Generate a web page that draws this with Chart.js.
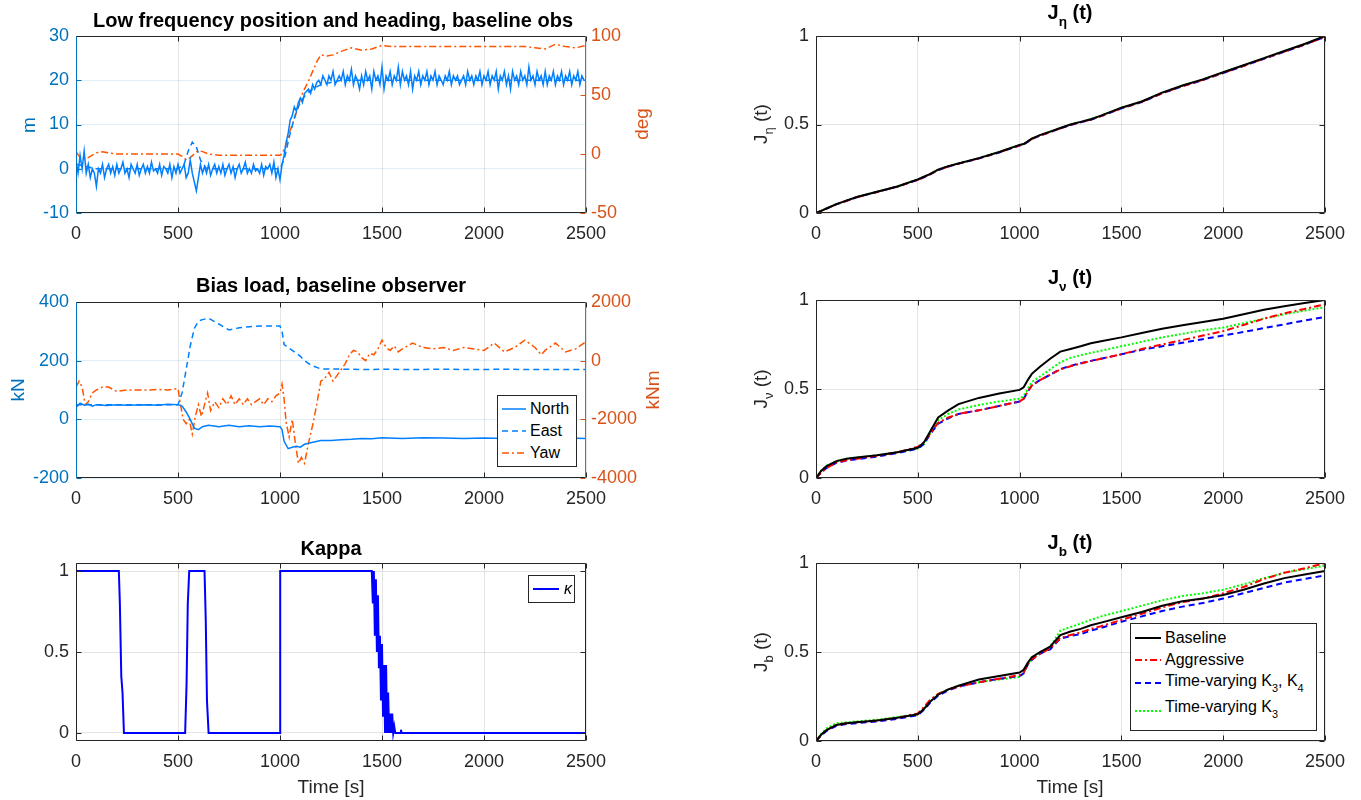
<!DOCTYPE html>
<html>
<head>
<meta charset="utf-8">
<script src="https://cdn.jsdelivr.net/npm/chart.js@4.4.1/dist/chart.umd.min.js"></script>
<style>
  body { margin: 0; background: #fff; width: 1361px; height: 800px; position: relative; overflow: hidden;
         font-family: 'Liberation Sans', Arial, sans-serif; }
  canvas { position: absolute; }
  .t { position: absolute; transform: translate(-50%, -50%); white-space: nowrap; color: #000; }
  .title { font-weight: bold; font-size: 20px; }
  .lab { font-size: 19px; color: #262626; }
  .rot { transform: translate(-50%, -50%) rotate(-90deg); }
  sub { font-size: 0.68em; vertical-align: -0.5em; }
  .leg { position: absolute; background: #fff; border: 1px solid #262626; font-size: 16px; color: #000; }
  .leg div { position: absolute; white-space: nowrap; transform: translateY(-50%); }
  .leg svg { position: absolute; }
</style>
</head>
<body>
<canvas id="pos" width="660" height="260" style="left:0;top:0"></canvas>
<canvas id="bias" width="660" height="259" style="left:0;top:266px"></canvas>
<canvas id="kap" width="660" height="261" style="left:0;top:527px"></canvas>
<canvas id="jeta" width="621" height="260" style="left:740px;top:0"></canvas>
<canvas id="jnu" width="621" height="261" style="left:740px;top:264px"></canvas>
<canvas id="jb" width="621" height="261" style="left:740px;top:527px"></canvas>

<div class="t title" style="left:333px;top:20px">Low frequency position and heading, baseline obs</div>
<div class="t title" style="left:331px;top:285px">Bias load, baseline observer</div>
<div class="t title" style="left:331px;top:548px">Kappa</div>
<div class="t title" style="left:1070px;top:15px">J<sub>η</sub> (t)</div>
<div class="t title" style="left:1070px;top:280px">J<sub>ν</sub> (t)</div>
<div class="t title" style="left:1070px;top:545px">J<sub>b</sub> (t)</div>

<div class="t lab rot" style="left:29px;top:125px;color:#0072BD">m</div>
<div class="t lab rot" style="left:642px;top:124px;color:#D95319">deg</div>
<div class="t lab rot" style="left:18px;top:390px;color:#0072BD">kN</div>
<div class="t lab rot" style="left:653px;top:390px;color:#D95319">kNm</div>
<div class="t lab rot" style="left:763px;top:124px">J<sub>η</sub> (t)</div>
<div class="t lab rot" style="left:763px;top:389px">J<sub>ν</sub> (t)</div>
<div class="t lab rot" style="left:763px;top:652px">J<sub>b</sub> (t)</div>
<div class="t lab" style="left:331px;top:787px">Time [s]</div>
<div class="t lab" style="left:1070px;top:787px">Time [s]</div>

<div class="leg" style="left:497px;top:395px;width:78px;height:70px">
  <svg width="28" height="70" style="left:2px;top:0">
    <line x1="2" y1="13" x2="26" y2="13" stroke="#007FFF" stroke-width="1.5"/>
    <line x1="2" y1="35" x2="26" y2="35" stroke="#007FFF" stroke-width="1.5" stroke-dasharray="6 4"/>
    <line x1="2" y1="57" x2="26" y2="57" stroke="#FF5500" stroke-width="1.5" stroke-dasharray="7 3 2 3"/>
  </svg>
  <div style="left:32px;top:13px">North</div>
  <div style="left:32px;top:35px">East</div>
  <div style="left:32px;top:57px">Yaw</div>
</div>

<div class="leg" style="left:528px;top:575px;width:45px;height:26px">
  <svg width="30" height="26" style="left:2px;top:0">
    <line x1="2" y1="13" x2="28" y2="13" stroke="#0000FF" stroke-width="2"/>
  </svg>
  <div style="left:35px;top:13px;font-style:italic">κ</div>
</div>

<div class="leg" style="left:1130px;top:623px;width:185px;height:106px">
  <svg width="30" height="106" style="left:2px;top:0">
    <line x1="2" y1="14" x2="28" y2="14" stroke="#000" stroke-width="2"/>
    <line x1="2" y1="36" x2="28" y2="36" stroke="#FF0000" stroke-width="2" stroke-dasharray="7 3 2 3"/>
    <line x1="2" y1="59" x2="28" y2="59" stroke="#0000FF" stroke-width="2" stroke-dasharray="6 4"/>
    <line x1="2" y1="87" x2="28" y2="87" stroke="#00FF00" stroke-width="2" stroke-dasharray="2 2"/>
  </svg>
  <div style="left:34px;top:14px">Baseline</div>
  <div style="left:34px;top:36px">Aggressive</div>
  <div style="left:34px;top:59px">Time-varying K<sub>3</sub>, K<sub>4</sub></div>
  <div style="left:34px;top:85px">Time-varying K<sub>3</sub></div>
</div>

<script>
// ---- tick labels ----
const xTicks = [0, 500, 1000, 1500, 2000, 2500];
const posTicks = [-10, 0, 10, 20, 30];
const yawPosTicks = [-50, 0, 50, 100];
const biasTicks = [-200, 0, 200, 400];
const yawBiasTicks = [-4000, -2000, 0, 2000];
const unitTicks = [0, 0.5, 1];

// ---- low frequency position (m), North sampled every 10 s ----
const posStep = 10;
const northPos = [
  2, -1, 3, 0, 4, -1, 1, -2, 0, -1,
  -4, 0, -1, 1, -2, 0, 1, -1, 0.5, -1.5,
  1, -1, 0, 1.5, -1, 0, -2, 1, 0, -1,
  1, -1.5, 0, 1, -1, 0.5, -1, 1.5, -0.5, 0,
  -1, 1, -1.5, 0.5, 0, -1, 1, -2, 0.5, -1,
  1, -1, 0, 1, -2, -1, 2, -1, -3, -5,
  -2, 1, -1, 0.5, -1, 1, -1.5, 0, 1, -1,
  0.5, -1, 1, -1.5, 0, 1, -1, 0.5, -2, 0,
  1, -1, 0, 1.5, -1, 0, -1, 1, -0.5, 0,
  -1, 1, -1.5, 0.5, 0, 1, -1, 1.5, -2, 0,
  -2.5, 1, 3, 6, 8, 11, 12, 14, 13, 15,
  16, 15, 17, 17.5, 18, 17, 19, 18, 19.5, 20,
  19, 21, 20, 19, 21, 20, 22, 19, 20, 21,
  20, 22, 19, 21, 20, 22.5, 19, 21, 20, 18,
  21, 19, 22, 20, 21, 18, 22, 20, 21, 19,
  23, 18, 21, 20, 22, 19, 21, 20, 23, 19,
  22, 20, 21, 19, 22, 18, 21, 20, 22, 19,
  21, 20, 22, 19, 21, 20, 22, 19, 21, 20,
  19, 21, 20, 22, 19, 21, 20, 21, 19, 20,
  21, 19, 22, 20, 21, 19, 21, 20, 22, 19,
  21, 20, 22, 19, 21, 20, 22, 18, 21, 20,
  22, 19, 21, 18, 22, 20, 21, 19, 22, 20,
  21, 19, 23, 20, 21, 19, 22, 20, 21, 19,
  22, 19, 21, 20, 22, 19, 21, 20, 22, 19,
  21, 20, 22, 19, 21, 20, 22, 19, 21, 20,
  20
];
const eastPosT = [0, 100, 200, 300, 400, 500, 530, 550, 570, 590, 610, 640, 700, 800, 900, 1000,
                  1020, 1050, 1080, 1100, 1130, 1160, 1200, 1250, 1300, 1400, 1500, 1700, 2000, 2300, 2500];
const eastPos = [1, 0, 0, 0, 0, 0, 1, 4, 6, 5, 2, 0, 0, 0, 0, 0,
                 2, 8, 13, 15, 17, 18, 19, 19.5, 20, 20, 20, 20, 20, 20, 20];
const yawPosT = [0, 20, 40, 60, 80, 100, 130, 160, 200, 300, 400, 500, 520, 540, 560, 580, 600, 620, 650,
                 700, 800, 900, 1000, 1010, 1030, 1050, 1070, 1090, 1100, 1120, 1140, 1160, 1180, 1200,
                 1230, 1260, 1300, 1350, 1400, 1450, 1500, 1550, 1600, 1700, 1800, 1900, 2000, 2100, 2200,
                 2250, 2300, 2350, 2400, 2450, 2500];
const yawPos = [2, -3, -4, -3, -1, 1, 2, 1, 0, 0, 0, 0, -2, -5, -3, 0, 3, 2, 0,
                -1, -1, -1, -1, 0, 8, 20, 30, 40, 47, 55, 62, 70, 78, 84,
                83, 84, 87, 90, 88, 89, 92, 91, 91, 91, 91, 91, 91, 91, 91,
                90, 89, 93, 91, 90, 92];

// ---- bias load ----
const biasT = [0, 20, 40, 60, 80, 100, 150, 200, 250, 300, 350, 400, 450, 500, 520, 540, 560, 580, 600, 620,
               650, 700, 750, 800, 850, 900, 950, 1000, 1010, 1020, 1040, 1060, 1080, 1100, 1120, 1150,
               1200, 1250, 1300, 1350, 1400, 1450, 1500, 1600, 1700, 1800, 1900, 2000, 2100, 2200, 2300, 2400, 2500];
const northBias = [40, 55, 48, 52, 45, 50, 47, 50, 48, 49, 50, 48, 51, 50, 45, 25, 0, -30, -35, -25,
                   -20, -25, -20, -25, -22, -25, -23, -25, -35, -75, -100, -95, -92, -95, -85, -80,
                   -72, -72, -70, -68, -65, -66, -63, -65, -63, -64, -65, -64, -65, -64, -65, -64, -65];
const eastBias = [50, 50, 50, 50, 50, 50, 50, 50, 50, 50, 50, 50, 50, 50, 90, 170, 250, 310, 335, 340,
                  345, 325, 305, 312, 316, 318, 318, 318, 300, 255, 245, 235, 225, 215, 200, 185,
                  172, 172, 171, 171, 170, 170, 171, 170, 170, 171, 170, 170, 171, 170, 170, 170, 170];
const yawBiasT = [
  0, 15, 30, 45, 60, 80, 100, 130, 160, 200,
  250, 300, 350, 400, 450, 500, 510, 525, 540, 555,
  570, 585, 600, 615, 630, 645, 660, 680, 700, 720,
  740, 760, 780, 800, 820, 840, 860, 880, 900, 920,
  940, 960, 980, 1000, 1010, 1020, 1030, 1045, 1060, 1075,
  1090, 1105, 1120, 1140, 1160, 1180, 1200, 1220, 1240, 1260,
  1280, 1300, 1320, 1340, 1360, 1380, 1400, 1420, 1440, 1460,
  1480, 1500, 1520, 1540, 1560, 1580, 1600, 1650, 1700, 1750,
  1800, 1850, 1900, 1950, 2000, 2050, 2100, 2150, 2200, 2250,
  2280, 2300, 2350, 2400, 2450, 2500
];
const yawBias = [
  -900, -700, -900, -1500, -1400, -1100, -1000, -900, -900, -1050,
  -1000, -1000, -1000, -980, -1000, -950, -1400, -2000, -2150, -2000,
  -2500, -1900, -1500, -1900, -1500, -1100, -1700, -1400, -1600, -1300,
  -1500, -1200, -1500, -1300, -1500, -1300, -1500, -1400, -1300, -1500,
  -1300, -1400, -1200, -1100, -800, -1300, -2100, -2600, -2000, -2800,
  -3500, -3300, -3500, -2800, -2200, -1500, -700, -600, -400, -700,
  -500, -300, -100, 200, 350, 300, 100, 0, 250, 200,
  400, 700, 450, 350, 500, 300, 400, 600, 450, 400,
  450, 350, 450, 400, 350, 600, 300, 450, 700, 450,
  200, 350, 600, 300, 400, 650
];

// ---- kappa ----
const kappaT = [0, 210, 215, 222, 228, 235, 535, 542, 548, 555, 630, 636, 642, 650, 1000, 1001,
                1450, 1455, 1460, 1465, 1470, 1475, 1480, 1485, 1490, 1495, 1500, 1505, 1510, 1515,
                1520, 1525, 1530, 1535, 1540, 1545, 1550, 1555, 1560, 1565, 1590, 1593, 1596, 2500];
const kappa = [1, 1, 0.8, 0.35, 0.25, 0, 0, 0.3, 0.8, 1, 1, 0.7, 0.2, 0, 0, 1,
               1, 0.8, 1, 0.6, 0.95, 0.5, 0.85, 0.4, 0.6, 0.2, 0.55, 0.1, 0.42, 0,
               0.42, 0, 0.25, 0, 0.12, 0, 0.12, 0, 0.04, 0, 0, 0.02, 0, 0];

// ---- normalised costs ----
const jT = [0, 25, 50, 100, 150, 200, 300, 400, 500, 530, 560, 600, 650, 700, 800, 900, 1000,
            1020, 1040, 1060, 1100, 1150, 1200, 1250, 1300, 1350, 1400,
            1500, 1600, 1700, 1800, 1900, 2000, 2100, 2200, 2300, 2400, 2500];
const etaBase = [0, 0.012, 0.025, 0.05, 0.07, 0.09, 0.12, 0.15, 0.19, 0.205, 0.22, 0.245, 0.265, 0.28, 0.31, 0.345, 0.385,
                 0.39, 0.405, 0.42, 0.44, 0.46, 0.48, 0.5, 0.515, 0.53, 0.55,
                 0.595, 0.63, 0.68, 0.72, 0.755, 0.795, 0.835, 0.875, 0.915, 0.955, 1.0];
const etaAggr = [0, 0.012, 0.024, 0.049, 0.069, 0.089, 0.119, 0.149, 0.188, 0.203, 0.219, 0.243, 0.263, 0.279, 0.309, 0.343, 0.382,
                 0.388, 0.403, 0.419, 0.438, 0.458, 0.478, 0.498, 0.513, 0.528, 0.548,
                 0.592, 0.628, 0.677, 0.717, 0.752, 0.792, 0.832, 0.872, 0.912, 0.952, 0.995];
const etaK34 = [0, 0.011, 0.024, 0.049, 0.069, 0.089, 0.119, 0.149, 0.187, 0.202, 0.218, 0.242, 0.262, 0.279, 0.308, 0.342, 0.381,
                0.387, 0.402, 0.418, 0.437, 0.457, 0.477, 0.497, 0.512, 0.527, 0.547,
                0.591, 0.627, 0.676, 0.716, 0.751, 0.791, 0.831, 0.871, 0.911, 0.951, 0.996];
const etaK3 = [0, 0.012, 0.025, 0.05, 0.07, 0.09, 0.12, 0.15, 0.19, 0.205, 0.221, 0.245, 0.265, 0.281, 0.31, 0.345, 0.384,
               0.39, 0.405, 0.42, 0.44, 0.46, 0.48, 0.5, 0.515, 0.53, 0.55,
               0.594, 0.63, 0.679, 0.719, 0.754, 0.794, 0.834, 0.874, 0.914, 0.954, 0.998];

const nuBase = [0, 0.04, 0.065, 0.095, 0.108, 0.115, 0.128, 0.145, 0.17, 0.2, 0.26, 0.34, 0.38, 0.415, 0.45, 0.475, 0.495,
                0.51, 0.55, 0.585, 0.625, 0.67, 0.71, 0.725, 0.74, 0.757, 0.768,
                0.79, 0.815, 0.838, 0.858, 0.877, 0.895, 0.92, 0.945, 0.965, 0.983, 1.0];
const nuAggr = [0, 0.03, 0.055, 0.088, 0.1, 0.108, 0.125, 0.145, 0.175, 0.2, 0.25, 0.31, 0.34, 0.36, 0.38, 0.405, 0.43,
                0.445, 0.485, 0.52, 0.55, 0.58, 0.61, 0.628, 0.643, 0.657, 0.67,
                0.695, 0.725, 0.75, 0.775, 0.8, 0.825, 0.86, 0.895, 0.925, 0.95, 0.975];
const nuK34 = [0, 0.03, 0.055, 0.085, 0.098, 0.105, 0.12, 0.14, 0.165, 0.19, 0.245, 0.305, 0.335, 0.36, 0.38, 0.405, 0.43,
               0.445, 0.485, 0.52, 0.55, 0.58, 0.612, 0.63, 0.645, 0.658, 0.67,
               0.695, 0.72, 0.74, 0.76, 0.78, 0.8, 0.82, 0.842, 0.863, 0.885, 0.905];
const nuK3 = [0, 0.04, 0.068, 0.095, 0.108, 0.115, 0.128, 0.145, 0.165, 0.19, 0.25, 0.325, 0.36, 0.385, 0.41, 0.43, 0.445,
              0.46, 0.5, 0.54, 0.57, 0.61, 0.65, 0.675, 0.69, 0.703, 0.715,
              0.74, 0.765, 0.79, 0.81, 0.83, 0.845, 0.87, 0.895, 0.92, 0.94, 0.96];

const bBase = [0, 0.035, 0.06, 0.09, 0.1, 0.105, 0.115, 0.13, 0.15, 0.18, 0.22, 0.26, 0.29, 0.31, 0.345, 0.365, 0.385,
               0.4, 0.44, 0.47, 0.5, 0.53, 0.595, 0.615, 0.63, 0.65, 0.665,
               0.695, 0.725, 0.76, 0.785, 0.8, 0.82, 0.85, 0.885, 0.915, 0.935, 0.955];
const bAggr = [0, 0.035, 0.06, 0.09, 0.1, 0.105, 0.115, 0.13, 0.155, 0.19, 0.23, 0.265, 0.29, 0.305, 0.33, 0.35, 0.37,
               0.385, 0.43, 0.46, 0.49, 0.52, 0.58, 0.595, 0.61, 0.63, 0.645,
               0.68, 0.715, 0.75, 0.78, 0.8, 0.83, 0.865, 0.91, 0.945, 0.97, 1.0];
const bK34 = [0, 0.03, 0.055, 0.085, 0.095, 0.1, 0.11, 0.125, 0.145, 0.175, 0.215, 0.255, 0.285, 0.305, 0.33, 0.35, 0.365,
              0.38, 0.43, 0.455, 0.49, 0.515, 0.575, 0.59, 0.6, 0.62, 0.635,
              0.67, 0.7, 0.73, 0.755, 0.775, 0.8, 0.83, 0.86, 0.89, 0.91, 0.93];
const bK3 = [0, 0.04, 0.07, 0.1, 0.105, 0.11, 0.12, 0.135, 0.15, 0.18, 0.22, 0.265, 0.29, 0.31, 0.33, 0.345, 0.36,
             0.38, 0.43, 0.465, 0.495, 0.53, 0.62, 0.64, 0.66, 0.68, 0.7,
             0.73, 0.76, 0.79, 0.815, 0.83, 0.85, 0.88, 0.915, 0.945, 0.965, 0.985];

// ---- styling ----
const FONT = "'Liberation Sans', Arial, sans-serif";
const DARK = '#262626';
const AX_BLUE = '#0072BD', AX_ORANGE = '#D95319';
const LN_BLUE = '#007FFF', LN_ORANGE = '#FF5500';
const GRID = 'rgba(0,0,0,0.1)';
const DASH = [6, 4], DASHDOT = [7, 3, 2, 3], DOT = [2, 2];

Chart.defaults.font.family = FONT;

function pts(t, v) { return v.map((y, i) => ({ x: t[i], y })); }
function line(data, color, dash, width, axis) {
  return { data, borderColor: color, borderDash: dash || [], borderWidth: width || 1.5,
           pointRadius: 0, fill: false, tension: 0, yAxisID: axis || 'y' };
}
function axis(o) {
  return {
    type: 'linear', position: o.pos, min: o.min, max: o.max,
    border: { display: false },
    grid: { display: !!o.grid, color: o.grid, drawTicks: false },
    ticks: { color: o.color || DARK, font: { size: 18 }, padding: o.pad, autoSkip: false, maxRotation: 0,
             callback: v => String(v) },
    afterBuildTicks: s => { s.ticks = o.ticks.map(v => ({ value: v })); },
    afterFit: s => { if (o.pos === 'bottom') s.height = o.size; else s.width = o.size; }
  };
}

// box around the axes with inward ticks, like the original figure
const frame = {
  id: 'frame',
  afterDraw(chart, args, o) {
    const { ctx, chartArea: a, scales } = chart;
    const L = 5;
    const seg = (x1, y1, x2, y2, c) => {
      ctx.strokeStyle = c; ctx.beginPath(); ctx.moveTo(x1, y1); ctx.lineTo(x2, y2); ctx.stroke();
    };
    const l = Math.round(a.left) + 0.5, r = Math.round(a.right) - 0.5;
    const t = Math.round(a.top) + 0.5, b = Math.round(a.bottom) - 0.5;
    const lc = o.left || DARK, rc = o.right || DARK;
    ctx.save();
    ctx.lineWidth = 1;
    scales.x.ticks.forEach(k => {
      const px = Math.round(scales.x.getPixelForValue(k.value)) + 0.5;
      seg(px, b, px, b - L, DARK); seg(px, t, px, t + L, DARK);
    });
    scales.y.ticks.forEach(k => {
      const py = Math.round(scales.y.getPixelForValue(k.value)) + 0.5;
      seg(l, py, l + L, py, lc);
      if (!scales.y1) seg(r, py, r - L, py, rc);
    });
    if (scales.y1) scales.y1.ticks.forEach(k => {
      const py = Math.round(scales.y1.getPixelForValue(k.value)) + 0.5;
      seg(r, py, r - L, py, rc);
    });
    seg(l, t, r, t, DARK); seg(l, b, r, b, DARK);
    seg(l, t, l, b, lc); seg(r, t, r, b, rc);
    ctx.restore();
  }
};

function make(id, datasets, scales, rightPad, frameOpts) {
  new Chart(document.getElementById(id), {
    type: 'line',
    data: { datasets },
    plugins: [frame],
    options: {
      responsive: false, animation: false, devicePixelRatio: 1,
      parsing: false, normalized: true,
      layout: { padding: { top: 36, right: rightPad, left: 0, bottom: 0 } },
      plugins: { legend: { display: false }, tooltip: { enabled: false }, frame: frameOpts || {} },
      scales
    }
  });
}

const xAxis = () => axis({ pos: 'bottom', min: 0, max: 2500, ticks: xTicks, grid: GRID, pad: 10, size: 47 });

// position & heading
make('pos', [
  line(northPos.map((y, i) => ({ x: i * posStep, y })), LN_BLUE, null, 1.5),
  line(pts(eastPosT, eastPos), LN_BLUE, DASH, 1.5),
  line(pts(yawPosT, yawPos), LN_ORANGE, DASHDOT, 1.5, 'y1')
], {
  x: xAxis(),
  y: axis({ pos: 'left', min: -10, max: 30, ticks: posTicks, color: AX_BLUE, grid: 'rgba(0,114,189,0.12)', pad: 7, size: 76 }),
  y1: axis({ pos: 'right', min: -50, max: 100, ticks: yawPosTicks, color: AX_ORANGE, pad: 5, size: 74 })
}, 0, { left: AX_BLUE, right: AX_ORANGE });

// bias load
make('bias', [
  line(pts(biasT, northBias), LN_BLUE, null, 1.5),
  line(pts(biasT, eastBias), LN_BLUE, DASH, 1.5),
  line(pts(yawBiasT, yawBias), LN_ORANGE, DASHDOT, 1.5, 'y1')
], {
  x: xAxis(),
  y: axis({ pos: 'left', min: -200, max: 400, ticks: biasTicks, color: AX_BLUE, grid: 'rgba(0,114,189,0.12)', pad: 7, size: 76 }),
  y1: axis({ pos: 'right', min: -4000, max: 2000, ticks: yawBiasTicks, color: AX_ORANGE, pad: 5, size: 74 })
}, 0, { left: AX_BLUE, right: AX_ORANGE });

// kappa
make('kap', [
  line(pts(kappaT, kappa), '#0000FF', null, 2)
], {
  x: xAxis(),
  y: axis({ pos: 'left', min: -0.05, max: 1.05, ticks: unitTicks, grid: GRID, pad: 7, size: 76 })
}, 74);

// cost functions
function costPanel(id, base, aggr, k34, k3) {
  make(id, [
    line(pts(jT, base), '#000000', null, 2),
    line(pts(jT, aggr), '#FF0000', DASHDOT, 2),
    line(pts(jT, k34), '#0000FF', DASH, 2),
    line(pts(jT, k3), '#00FF00', DOT, 2)
  ], {
    x: xAxis(),
    y: axis({ pos: 'left', min: 0, max: 1, ticks: unitTicks, grid: GRID, pad: 7, size: 76 })
  }, 36);
}
costPanel('jeta', etaBase, etaAggr, etaK34, etaK3);
costPanel('jnu', nuBase, nuAggr, nuK34, nuK3);
costPanel('jb', bBase, bAggr, bK34, bK3);
</script>
</body>
</html>
